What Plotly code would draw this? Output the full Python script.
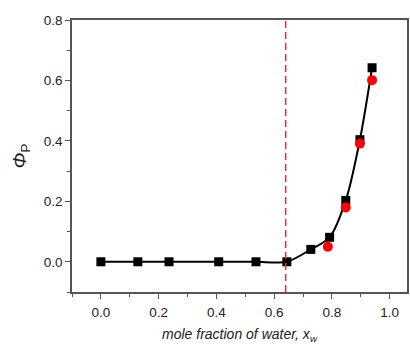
import plotly.graph_objects as go

x_sq = [0.0, 0.128, 0.236, 0.408, 0.537, 0.644, 0.727, 0.792, 0.848, 0.897, 0.939]
y_sq = [0.0, 0.0, 0.0, 0.0, 0.0, 0.0, 0.041, 0.081, 0.203, 0.404, 0.642]
x_ci = [0.786, 0.848, 0.897, 0.939]
y_ci = [0.05, 0.18, 0.391, 0.601]
x_dash = 0.64

FONT = "Liberation Sans, Arial, sans-serif"

fig = go.Figure()
fig.add_trace(go.Scatter(x=x_sq, y=y_sq, mode="lines", line=dict(color="black", width=2, shape="spline", smoothing=0.8),
                         showlegend=False, hoverinfo="skip"))
fig.add_trace(go.Scatter(x=x_sq, y=y_sq, mode="markers", marker=dict(symbol="square", size=9, color="black"),
                         showlegend=False))
fig.add_trace(go.Scatter(x=x_ci, y=y_ci, mode="markers", marker=dict(symbol="circle", size=10, color="red"),
                         showlegend=False))
fig.add_vline(x=x_dash, line=dict(color="#f03030", width=1.5, dash="7px,4px"))

axis_common = dict(showline=True, linecolor="#555", linewidth=1.5, mirror=True, ticks="outside",
                   ticklen=5, tickwidth=1, tickcolor="#555", showgrid=False, zeroline=False,
                   tickfont=dict(family=FONT, size=13.5, color="#222"))
fig.update_xaxes(range=[-0.1, 1.06], tickvals=[0, 0.2, 0.4, 0.6, 0.8, 1.0], tickformat=".1f",
                 ticklabelstandoff=2,
                 minor=dict(ticks="outside", ticklen=3, tickcolor="#555", dtick=0.1, tick0=0.1, showgrid=False),
                 title=dict(text="<i>mole fraction of water, x<sub>w</sub></i>", font=dict(family=FONT, size=14, color="#222"), standoff=12),
                 **axis_common)
fig.update_yaxes(range=[-0.1, 0.8], tickvals=[0, 0.2, 0.4, 0.6, 0.8], tickformat=".1f",
                 minor=dict(ticks="outside", ticklen=3, tickcolor="#555", dtick=0.1, tick0=0.1, showgrid=False),
                 title=dict(text="<i>Φ</i><sub>P</sub>", font=dict(family=FONT, size=19, color="#222"), standoff=12),
                 **axis_common)
fig.update_layout(width=410, height=344, margin=dict(l=72, r=1, t=20, b=52),
                  plot_bgcolor="white", paper_bgcolor="white")
fig.write_html("out.html", config={"displayModeBar": False},
               post_script="document.body.style.margin='0';document.body.style.overflow='hidden';")
